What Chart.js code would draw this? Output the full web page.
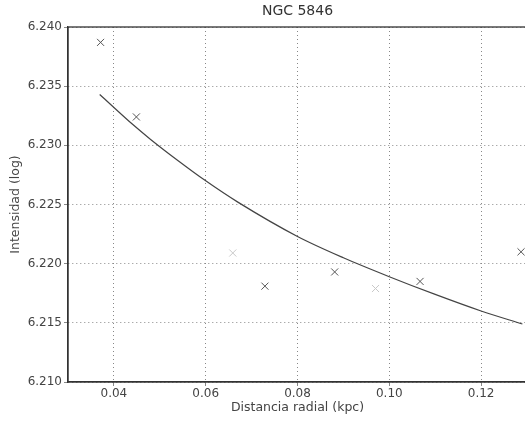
<!DOCTYPE html>
<html>
<head>
<meta charset="utf-8">
<script src="https://cdn.jsdelivr.net/npm/chart.js@4.4.1/dist/chart.umd.min.js"></script>
<style>
  html, body { margin: 0; padding: 0; background: #fff; overflow: hidden; }
  #wrap { width: 533px; height: 422px; }
</style>
</head>
<body>
<div id="wrap"><canvas id="chart"></canvas></div>
<script>
// measured points (x marks)
let obsX = [0.0371, 0.0449, 0.0659, 0.0729, 0.0881, 0.0970, 0.1067, 0.1287];
let obsY = [6.2387, 6.2324, 6.2209, 6.2181, 6.2193, 6.2179, 6.2185, 6.2210];
// faint marks in the scan
let faint = [false, false, true, false, false, true, false, false];

// fitted curve
let fitX = [0.0369, 0.040, 0.044, 0.048, 0.054, 0.060, 0.067, 0.080, 0.090, 0.100, 0.110, 0.120, 0.129];
let fitY = [6.2343, 6.2332, 6.2318, 6.2305, 6.2287, 6.2270, 6.2252, 6.2223, 6.2205, 6.2189, 6.2174, 6.2160, 6.2149];

let xTicks = [0.04, 0.06, 0.08, 0.10, 0.12];
let yTicks = [6.210, 6.215, 6.220, 6.225, 6.230, 6.235, 6.240];

const font = "'DejaVu Sans', sans-serif";

// box round the plot + title centred over the plot area
const frame = {
  id: 'frame',
  afterDatasetsDraw(chart) {
    let a = chart.chartArea;
    let ctx = chart.ctx;
    ctx.save();
    ctx.strokeStyle = '#333';
    ctx.lineWidth = 1.3;
    ctx.strokeRect(a.left, a.top, a.right - a.left, a.bottom - a.top);
    ctx.fillStyle = '#333';
    ctx.font = '14px ' + font;
    ctx.textAlign = 'center';
    ctx.textBaseline = 'middle';
    ctx.fillText('NGC 5846', (a.left + a.right) / 2, 11);
    ctx.restore();
  }
};

let ctx = document.getElementById('chart').getContext('2d');

new Chart(ctx, {
  type: 'scatter',
  data: {
    datasets: [{
      label: 'datos',
      data: obsX.map((x, i) => ({ x: x, y: obsY[i] })),
      pointStyle: 'crossRot',
      pointRadius: 5,
      pointBorderWidth: 1,
      pointBorderColor: faint.map(f => f ? '#c8c8c8' : '#555'),
      showLine: false
    }, {
      label: 'ajuste',
      data: fitX.map((x, i) => ({ x: x, y: fitY[i] })),
      showLine: true,
      borderColor: '#444',
      borderWidth: 1.2,
      pointRadius: 0,
      cubicInterpolationMode: 'monotone'
    }]
  },
  options: {
    responsive: true,
    maintainAspectRatio: false,
    animation: false,
    layout: { padding: { top: 27, left: 0, right: 0, bottom: 0 } },
    plugins: {
      legend: { display: false },
      tooltip: { enabled: false },
      title: { display: false }
    },
    scales: {
      x: {
        type: 'linear',
        min: 0.03,
        max: 0.13,
        afterBuildTicks: (s) => { s.ticks = xTicks.map(v => ({ value: v })); },
        afterFit: (s) => { s.height = 40; },
        ticks: {
          color: '#444',
          padding: 1,
          font: { family: font, size: 12 },
          callback: (v) => Number(v).toFixed(2)
        },
        grid: { color: '#888', lineWidth: 1, tickLength: 4 },
        border: { display: true, color: '#333', width: 1.3, dash: [1, 3] },
        title: {
          display: true,
          text: 'Distancia radial (kpc)',
          color: '#444',
          font: { family: font, size: 12.5 },
          padding: { top: 0, bottom: 7 }
        }
      },
      y: {
        type: 'linear',
        min: 6.21,
        max: 6.24,
        afterBuildTicks: (s) => { s.ticks = yTicks.map(v => ({ value: v })); },
        afterFit: (s) => { s.width = 68; },
        ticks: {
          color: '#444',
          padding: 2,
          font: { family: font, size: 12 },
          callback: (v) => Number(v).toFixed(3)
        },
        grid: { color: '#888', lineWidth: 1, tickLength: 4 },
        border: { display: true, color: '#333', width: 1.3, dash: [1, 3] },
        title: {
          display: true,
          text: 'Intensidad (log)',
          color: '#444',
          font: { family: font, size: 12.5 },
          padding: { top: 8, bottom: 0 }
        }
      }
    }
  },
  plugins: [frame]
});
</script>
</body>
</html>
